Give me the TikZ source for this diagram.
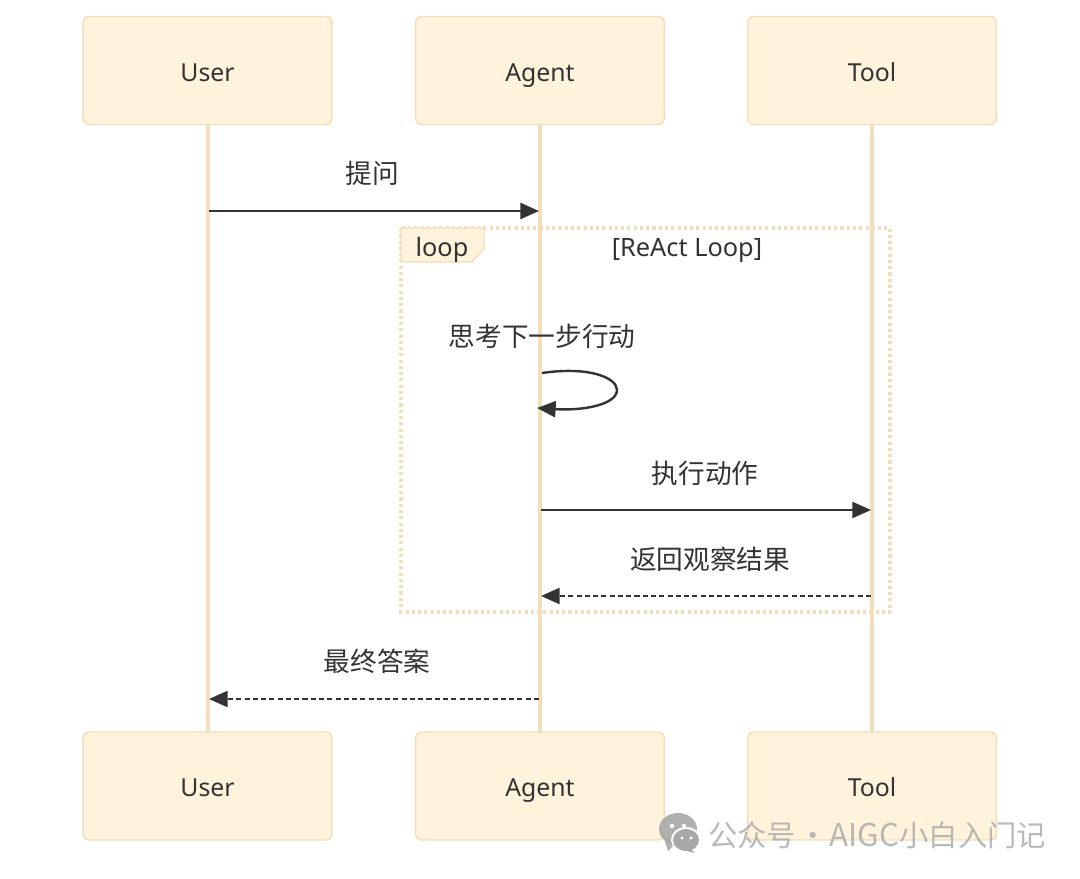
\documentclass[tikz,border=0pt]{standalone}
\usepackage{fontspec}
\setmainfont{Noto Sans}
\newfontfamily\cjk{Noto Sans CJK SC}
\usetikzlibrary{arrows.meta}
\definecolor{boxfill}{HTML}{FFF3DC}
\definecolor{boxline}{HTML}{F1DFBB}
\definecolor{lifeline}{HTML}{F1DFBB}
\definecolor{ink}{HTML}{333333}
\definecolor{wm}{HTML}{A8A8A8}
\tikzset{
  x=0.75pt,y=-0.75pt,
  actor/.style={draw=boxline,fill=boxfill,line width=1.1pt,rounded corners=4pt,minimum width=186.5pt,minimum height=81pt,inner sep=0pt,text=ink,text height=16pt,text depth=0pt,font=\fontsize{18.6}{22}\selectfont},
  life/.style={draw=lifeline,line width=2.45pt},
  msg/.style={draw=ink,line width=1.8pt,-{Triangle[length=14pt,width=12pt]}},
  reply/.style={msg,dash pattern=on 3.8pt off 2.4pt},
  lbl/.style={text=ink,inner sep=0pt,font=\cjk\fontsize{20}{24}\selectfont},
  frametxt/.style={text=ink,inner sep=0pt,text height=18.5pt,text depth=4pt,font=\fontsize{19}{22}\selectfont},
  wmtxt/.style={text=wm,inner sep=0pt,font=\cjk\fontsize{22}{26}\selectfont}
}
\begin{document}
\begin{tikzpicture}
\useasboundingbox (0,0) rectangle (1080,878);
\fill[white] (0,0) rectangle (1080,878);
% lifelines
\coordinate (ut) at (208,70); \coordinate (ub) at (208,786);
\coordinate (at) at (540,70); \coordinate (ab) at (540,786);
\coordinate (tt) at (872,70); \coordinate (tb) at (872,786);
\draw[life] (ut) -- (ub);
\draw[life] (at) -- (ab);
\draw[life] (tt) -- (tb);
% actors
\node[actor] (user1) at (207.5,70.5) {User};
\node[actor] (agent1) at (540,70.5) {Agent};
\node[actor] (tool1) at (872,70.5) {Tool};
\node[actor] (user2) at (207.5,786) {User};
\node[actor] (agent2) at (540,786) {Agent};
\node[actor] (tool2) at (872,786) {Tool};
% loop frame
\draw[draw=boxline,line width=2.45pt,dash pattern=on 2.3pt off 2.4pt] (401,228) rectangle (890,612);
\draw[draw=boxline,fill=boxfill,line width=1pt] (401,228) -- (484,228) -- (484,249) -- (472,262) -- (401,262) -- cycle;
\node[frametxt] (looplbl) at (442,247) {loop};
\node[frametxt] (looptitle) at (687,247) {[ReAct Loop]};
% messages
\coordinate (m1a) at (209,211); \coordinate (m1b) at (539,211);
\draw[msg] (m1a) -- (m1b);
\node[lbl] (t1) at (372,173) {提问};
\node[lbl] (t2) at (542,336) {思考下一步行动};
\coordinate (m2a) at (542,373); \coordinate (m2b) at (537,408);
\draw[msg] (m2a) .. controls (590,366) and (617,378) .. (617,390) .. controls (617,404) and (585,411) .. (m2b);
\coordinate (m3a) at (541,510); \coordinate (m3b) at (871,510);
\draw[msg] (m3a) -- (m3b);
\node[lbl] (t3) at (705,473) {执行动作};
\coordinate (m4a) at (871,596); \coordinate (m4b) at (541,596);
\draw[reply] (m4a) -- (m4b);
\node[lbl] (t4) at (710,559) {返回观察结果};
\coordinate (m5a) at (539,699); \coordinate (m5b) at (209,699);
\draw[reply] (m5a) -- (m5b);
\node[lbl] (t5) at (377,661) {最终答案};
% watermark
\fill[wm,opacity=.9] (678,829) ellipse (19 and 16);
\fill[wm,opacity=.9] (676,843) -- (668,851) -- (664,838) -- cycle;
\fill[white] (686,840) ellipse (15 and 13);
\fill[wm] (686,840) ellipse (13 and 11);
\fill[wm] (690,848) -- (695,853) -- (683,850) -- cycle;
\fill[white] (672,826) circle (2.2) (684,826) circle (2.2) (682,838) circle (1.7) (691,838) circle (1.7);
\node[wmtxt,anchor=west,opacity=.8] (wmark) at (708,835) {公众号\hspace{1.5pt}·\hspace{1.5pt}{\fontsize{23.5}{26}\selectfont AIGC}小白入门记};
\end{tikzpicture}
\end{document}
